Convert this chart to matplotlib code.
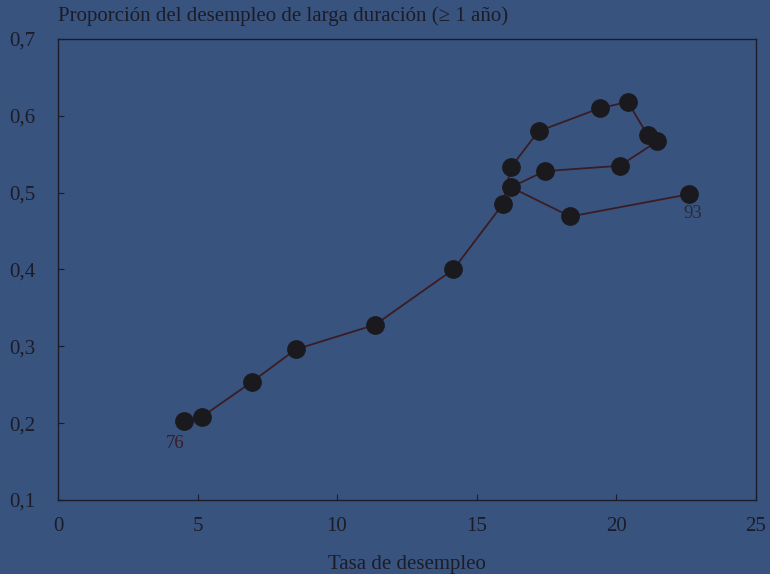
import matplotlib
matplotlib.use("Agg")
import matplotlib.pyplot as plt
from matplotlib.ticker import FuncFormatter

# desempleo (%) vs proporcion de parados de larga duracion, 1976-1993
tasa = [4.5, 5.15, 6.96, 8.52, 11.36, 14.17, 15.94, 16.23, 17.22, 19.42,
        20.42, 21.13, 21.48, 20.13, 17.44, 16.23, 18.36, 22.62]
proporcion = [0.203, 0.208, 0.254, 0.296, 0.328, 0.400, 0.485, 0.533, 0.580, 0.610,
              0.618, 0.575, 0.567, 0.535, 0.528, 0.507, 0.469, 0.498]
anios = ['76', '77', '78', '79', '80', '81', '82', '83', '84', '85',
         '86', '87', '88', '89', '90', '91', '92', '93']

bg = '#38537e'
ink = '#1c1c28'

plt.rcParams['font.family'] = ['Liberation Serif', 'DejaVu Serif']

fig = plt.figure(figsize=(7.7, 5.74), dpi=100, facecolor=bg)
ax = fig.add_axes([0.0753, 0.129, 0.906, 0.803])
ax.set_facecolor(bg)

ax.plot(tasa, proporcion, color='#3a1c24', lw=1.3, zorder=2)
ax.plot(tasa, proporcion, 'o', color='#1a1a1e', markersize=12.5, zorder=3)

# etiquetas del primer y ultimo año
ax.annotate(anios[0], (tasa[0], proporcion[0]), xytext=(-13, -10), textcoords='offset points',
            fontsize=13.5, color='#3a1c24', va='top')
ax.annotate(anios[-1], (tasa[-1], proporcion[-1]), xytext=(-4, -8), textcoords='offset points',
            fontsize=13.5, color='#2a2a38', va='top')

ax.set_xlim(0, 25)
ax.set_ylim(0.1, 0.7)
ax.set_xticks([0, 5, 10, 15, 20, 25])
ax.set_yticks([0.1, 0.2, 0.3, 0.4, 0.5, 0.6, 0.7])
ax.yaxis.set_major_formatter(FuncFormatter(lambda v, p: ('%.1f' % v).replace('.', ',')))
ax.tick_params(direction='in', length=4, color=ink, labelcolor=ink, labelsize=15)
ax.tick_params(axis='x', pad=12)
ax.tick_params(axis='y', pad=16)

for s in ax.spines.values():
    s.set_color(ink)
    s.set_linewidth(1)

ax.set_xlabel('Tasa de desempleo', fontsize=15, color=ink, labelpad=14)
fig.text(0.0753, 0.954, 'Proporción del desempleo de larga duración (≥ 1 año)',
         fontsize=15, color=ink, ha='left', va='bottom')

fig.savefig('out.png', dpi=100, facecolor=bg)
